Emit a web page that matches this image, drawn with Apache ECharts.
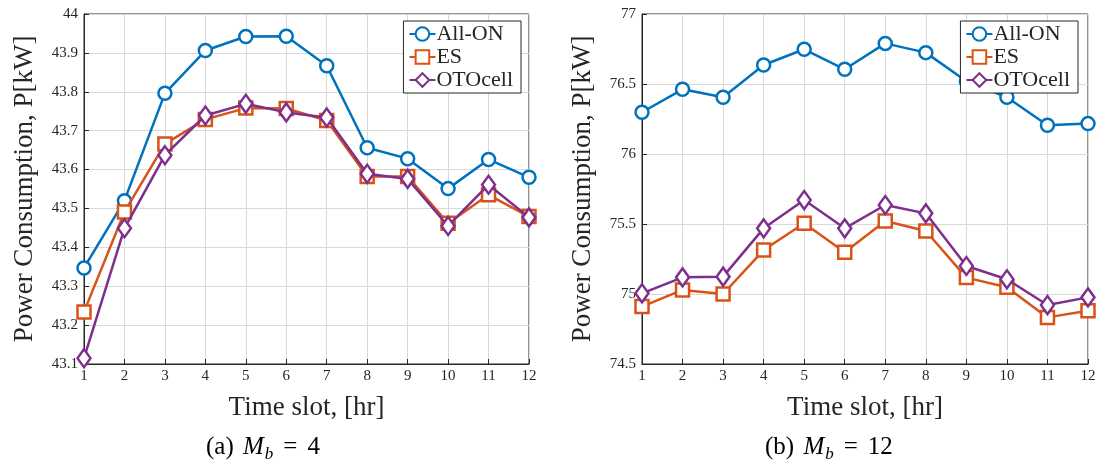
<!DOCTYPE html>
<html>
<head>
<meta charset="utf-8">
<script src="https://cdn.jsdelivr.net/npm/echarts@6/dist/echarts.min.js"></script>
<style>
  html, body { margin: 0; padding: 0; background: #fff; }
  #chart { width: 1108px; height: 468px; }
</style>
</head>
<body>
<div id="chart"></div>
<script>
// Time slots (hours)
const slots = [1, 2, 3, 4, 5, 6, 7, 8, 9, 10, 11, 12];

// Panel (a): M_b = 4
const allOnA   = [43.347, 43.520, 43.796, 43.906, 43.942, 43.943, 43.867, 43.656, 43.628, 43.551, 43.626, 43.580];
const esA      = [43.234, 43.491, 43.666, 43.729, 43.758, 43.757, 43.726, 43.582, 43.582, 43.462, 43.535, 43.479];
const otoA     = [43.115, 43.449, 43.637, 43.739, 43.769, 43.747, 43.734, 43.589, 43.576, 43.455, 43.561, 43.477];

// Panel (b): M_b = 12
const allOnB   = [76.298, 76.462, 76.405, 76.636, 76.748, 76.605, 76.790, 76.724, 76.520, 76.405, 76.205, 76.217];
const esB      = [74.910, 75.029, 75.000, 75.314, 75.505, 75.298, 75.521, 75.450, 75.117, 75.048, 74.833, 74.881];
const otoB     = [75.005, 75.119, 75.124, 75.469, 75.671, 75.469, 75.636, 75.576, 75.200, 75.105, 74.921, 74.976];

const seriesNames = ['All-ON', 'ES', 'OTOcell'];
const colors = ['#0072BD', '#D95319', '#7E2F8E'];
const captions = ['(a) ', '(b) '];
const captionValues = ['4', '12'];

const FONT = '"Liberation Serif", "DejaVu Serif", serif';
const TXT = '#262626';

const chart = echarts.init(document.getElementById('chart'), null, { renderer: 'canvas' });

const grids = [
  { left: 84, right: 579, top: 14, bottom: 104 },
  { left: 642, right: 20, top: 14, bottom: 104 }
];

function xAxis(i) {
  return {
    gridIndex: i, type: 'value', min: 1, max: 12, interval: 1,
    name: 'Time slot, [hr]', nameLocation: 'middle', nameGap: 30,
    nameTextStyle: { fontFamily: FONT, fontSize: 27, color: TXT },
    axisLine: { show: true, lineStyle: { color: TXT, width: 1 } },
    axisTick: { show: true, inside: true, length: 5, lineStyle: { color: TXT } },
    axisLabel: { fontFamily: FONT, fontSize: 15, color: TXT, margin: 5 },
    splitLine: { show: true, lineStyle: { color: '#d9d9d9', width: 1 } }
  };
}

function yAxis(i, min, max, step) {
  return {
    gridIndex: i, type: 'value', min: min, max: max, interval: step,
    name: 'Power Consumption, P[kW]', nameLocation: 'middle', nameGap: 46,
    nameTextStyle: { fontFamily: FONT, fontSize: 27, color: TXT },
    axisLine: { show: true, lineStyle: { color: TXT, width: 1 } },
    axisTick: { show: true, inside: true, length: 5, lineStyle: { color: TXT } },
    axisLabel: { fontFamily: FONT, fontSize: 15, color: TXT, margin: 6 },
    splitLine: { show: true, lineStyle: { color: '#d9d9d9', width: 1 } }
  };
}

const symbols = ['circle', 'rect', 'diamond'];
const symbolSizes = [13, 13, [13, 18]];

function makeSeries(gridIdx, dataSets) {
  return dataSets.map((vals, k) => ({
    name: seriesNames[k],
    type: 'line',
    xAxisIndex: gridIdx, yAxisIndex: gridIdx,
    data: slots.map((s, j) => [s, vals[j]]),
    symbol: symbols[k],
    symbolSize: symbolSizes[k],
    showAllSymbol: true,
    lineStyle: { color: colors[k], width: 2.5 },
    itemStyle: { color: '#fff', borderColor: colors[k], borderWidth: 2.5 },
    emphasis: { disabled: true },
    animation: false,
    z: 2 + k
  }));
}

function legend(rightPx) {
  return {
    right: rightPx, top: 21,
    orient: 'vertical',
    data: seriesNames,
    backgroundColor: '#fff',
    borderColor: TXT, borderWidth: 1, borderRadius: 0,
    padding: [2, 8, 2, 5],
    itemGap: 1,
    itemWidth: 26, itemHeight: 17,
    textStyle: { fontFamily: FONT, fontSize: 22, color: TXT, padding: [0, 0, 0, -4] }
  };
}

function caption(i, cx) {
  return {
    type: 'text',
    left: cx, top: 435,
    style: {
      text: '{n|' + captions[i] + '}{m|M}{s|b}{e|=}{n|' + captionValues[i] + '}',
      rich: {
        n: { fontFamily: FONT, fontSize: 25, fill: '#000' },
        m: { fontFamily: FONT, fontSize: 25, fontStyle: 'italic', fill: '#000', padding: [0, 0, 0, 3] },
        s: { fontFamily: FONT, fontSize: 17, fontStyle: 'italic', fill: '#000', padding: [14, 0, 0, 1] },
        e: { fontFamily: FONT, fontSize: 25, fill: '#000', padding: [0, 10, 0, 10] }
      }
    }
  };
}

chart.setOption({
  animation: false,
  grid: grids.map(g => Object.assign({ show: true, borderColor: TXT, borderWidth: 1, backgroundColor: 'transparent' }, g)),
  xAxis: [xAxis(0), xAxis(1)],
  yAxis: [yAxis(0, 43.1, 44, 0.1), yAxis(1, 74.5, 77, 0.5)],
  legend: [legend(1108 - 521), legend(1108 - 1078)],
  series: makeSeries(0, [allOnA, esA, otoA]).concat(makeSeries(1, [allOnB, esB, otoB])),
  graphic: [caption(0, 206), caption(1, 765)]
});
</script>
</body>
</html>
